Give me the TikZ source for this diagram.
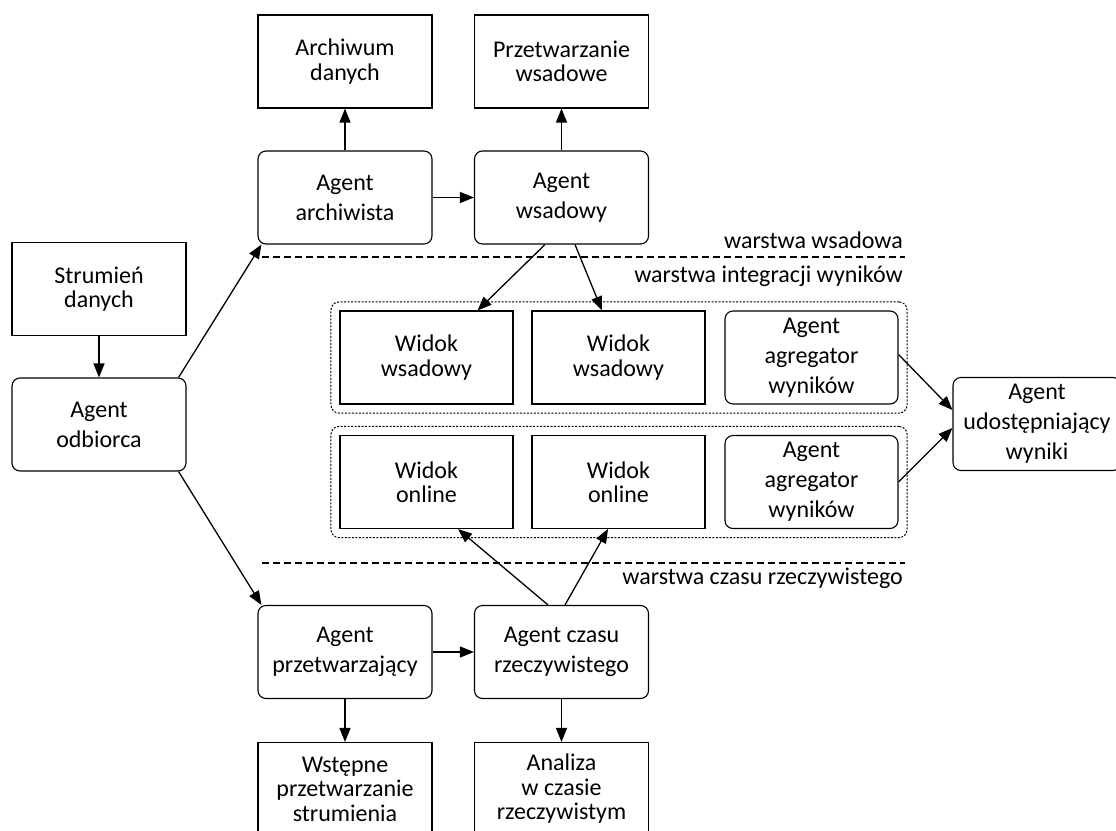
\documentclass[tikz,border=0pt]{standalone}
\usepackage{fontspec}
\setmainfont{Carlito}
\usetikzlibrary{arrows.meta,fit}

\begin{document}
\begin{tikzpicture}[x=1pt, y=-1pt,
                    plain_box/.style={rectangle, draw=black, line width=1.1pt, minimum width=174pt, minimum height=93pt, align=center, inner sep=2pt, font=\fontsize{24}{24.5}\selectfont},
                    agent_box/.style={plain_box, rounded corners=8pt, font=\fontsize{24}{30}\selectfont},
                    view_group/.style={draw=black, line width=1pt, dash pattern=on 2pt off 1.5pt, rounded corners=8pt, inner sep=8.5pt},
                    layer_label/.style={anchor=east, inner sep=0pt, font=\fontsize{24}{24.5}\selectfont},
                    layer_line/.style={line width=1.2pt, dash pattern=on 7pt off 4pt},
                    flow/.style={line width=1.3pt, -{Triangle[length=14pt, width=11pt]}}
                ]
                    \useasboundingbox (0,0) rectangle (1116,830);
                    \clip (0,0) rectangle (1116,830);

                    % wejscie
                    \node[plain_box] (strumien) at (99,289) {Strumień\\danych};
                    \node[agent_box] (odbiorca) at (99,424.5) {Agent\\odbiorca};

                    % warstwa wsadowa
                    \node[plain_box] (archiwum) at (345,61.5) {Archiwum\\danych};
                    \node[plain_box] (przetw_wsad) at (561.5,61.5) {Przetwarzanie\\wsadowe};
                    \node[agent_box] (archiwista) at (345,197.5) {Agent\\archiwista};
                    \node[agent_box] (wsadowy) at (561.5,197.5) {Agent\\wsadowy};

                    % warstwa integracji
                    \node[plain_box, minimum width=173pt] (widok_w1) at (426.5,357.5) {Widok\\wsadowy};
                    \node[plain_box, minimum width=173pt] (widok_w2) at (618.5,357.5) {Widok\\wsadowy};
                    \node[agent_box, minimum width=173pt] (agregator_w) at (811.5,357.5) {Agent\\agregator\\wyników};
                    \node[plain_box, minimum width=173pt] (widok_o1) at (426.5,482) {Widok\\online};
                    \node[plain_box, minimum width=173pt] (widok_o2) at (618.5,482) {Widok\\online};
                    \node[agent_box, minimum width=173pt] (agregator_o) at (811.5,482) {Agent\\agregator\\wyników};
                    \node[view_group, fit=(widok_w1)(agregator_w)] (grupa_w) {};
                    \node[view_group, fit=(widok_o1)(agregator_o)] (grupa_o) {};
                    \node[agent_box, minimum width=168pt] (udostepniajacy) at (1037,424) {Agent\\udostępniający\\wyniki};

                    % warstwa czasu rzeczywistego
                    \node[agent_box] (przetwarzajacy) at (345,652) {Agent\\przetwarzający};
                    \node[agent_box] (czasu) at (561.5,652) {Agent czasu\\rzeczywistego};
                    \node[plain_box] (wstepne) at (345,789) {Wstępne\\przetwarzanie\\strumienia};
                    \node[plain_box] (analiza) at (561.5,789) {Analiza\\w czasie\\rzeczywistym};

                    % granice warstw
                    \coordinate (gora_l) at (262,257);
                    \coordinate (gora_p) at (905,257);
                    \coordinate (dol_l) at (262,563);
                    \coordinate (dol_p) at (905,563);
                    \draw[layer_line] (gora_l) -- (gora_p);
                    \draw[layer_line] (dol_l) -- (dol_p);
                    \node[layer_label] (lab_wsad) at (903,240) {warstwa wsadowa};
                    \node[layer_label] (lab_integr) at (903,276) {warstwa integracji wyników};
                    \node[layer_label] (lab_czas) at (903,578) {warstwa czasu rzeczywistego};

                    % przeplyw
                    \draw[flow] (strumien) -- (odbiorca);
                    \draw[flow] ([xshift=-8pt]odbiorca.north east) -- ([xshift=4pt]archiwista.south west);
                    \draw[flow] ([xshift=-8pt]odbiorca.south east) -- ([xshift=4pt]przetwarzajacy.north west);
                    \draw[flow] (archiwista) -- (archiwum);
                    \draw[flow] (wsadowy) -- (przetw_wsad);
                    \draw[flow] (archiwista) -- (wsadowy);
                    \draw[flow] ([xshift=-16.5pt]wsadowy.south) -- ([xshift=-36pt]widok_w1.north east);
                    \draw[flow] ([xshift=13.5pt]wsadowy.south) -- ([xshift=-16.5pt]widok_w2.north);
                    \draw[flow] ([yshift=3pt]agregator_w.east) -- ([yshift=14pt]udostepniajacy.west);
                    \draw[flow] (agregator_o.east) -- ([yshift=-4pt]udostepniajacy.west);
                    \draw[flow] ([xshift=-13.5pt]czasu.north) -- ([xshift=31.5pt]widok_o1.south);
                    \draw[flow] ([xshift=3.5pt]czasu.north) -- ([xshift=-10.5pt]widok_o2.south);
                    \draw[flow] (przetwarzajacy) -- (czasu);
                    \draw[flow] (przetwarzajacy) -- (wstepne);
                    \draw[flow] (czasu) -- (analiza);
                \end{tikzpicture}
\end{document}
